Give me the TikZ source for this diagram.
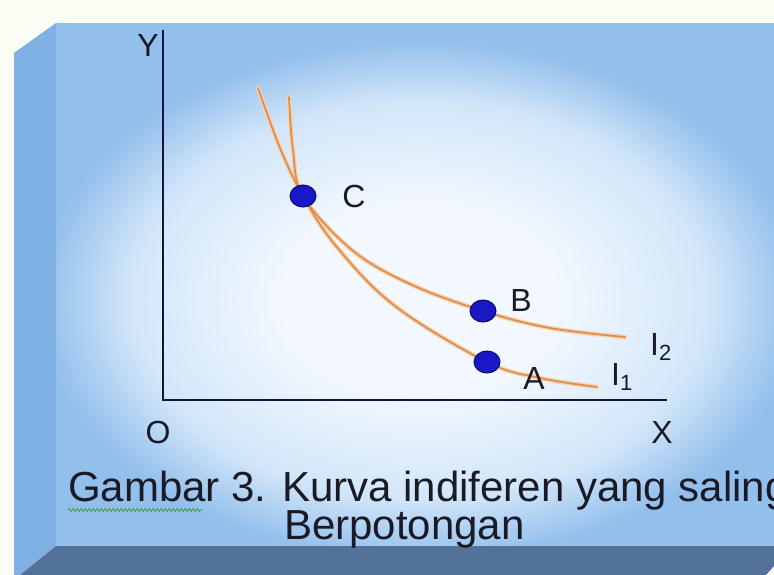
\documentclass[tikz,border=0pt]{standalone}
\usepackage{fontspec}
\setmainfont{Liberation Sans}
\usetikzlibrary{decorations.pathmorphing,shapes.geometric}
\definecolor{bgw}{HTML}{FBFCF4}
\definecolor{face}{HTML}{92BFEC}
\definecolor{side}{HTML}{80B1E4}
\definecolor{bottomc}{HTML}{52729A}
\definecolor{glow}{HTML}{F2F8FE}
\definecolor{glowmid}{HTML}{D2E6F9}
\definecolor{axiscol}{HTML}{14143C}
\definecolor{curvecol}{HTML}{DE8E4E}
\definecolor{curvehalo}{HTML}{F6D2B0}
\definecolor{dotcol}{HTML}{1818C8}
\definecolor{dotedge}{HTML}{0A0A6A}
\definecolor{squig}{HTML}{3E9A3E}
\definecolor{textcol}{HTML}{1A1A26}
\pgfdeclareradialshading{faceglow}{\pgfpoint{0bp}{0bp}}{color(0bp)=(glow); color(9bp)=(glow); color(19bp)=(glowmid); color(25bp)=(face); color(50bp)=(face)}
\tikzset{
  axisline/.style={draw=axiscol, line width=2.4pt},
  halo/.style={draw=curvehalo, line width=4.5pt, line cap=round},
  curveline/.style={draw=curvecol, line width=1.8pt, line cap=round},
  dotnode/.style={ellipse, fill=dotcol, draw=dotedge, line width=1pt, minimum width=26pt, minimum height=22pt, inner sep=0pt},
  lab/.style={font=\fontsize{32}{36}\selectfont, text=textcol, inner sep=0pt},
  captext/.style={font=\fontsize{42}{46}\selectfont, text=textcol, inner sep=0pt, anchor=base west}
}
\begin{document}
\begin{tikzpicture}[x=1pt,y=-1pt]
\useasboundingbox (0,0) rectangle (774,575);
\clip (0,0) rectangle (774,575);
% box
\fill[bgw] (0,0) rectangle (774,575);
\fill[side] (14,53) -- (56,23) -- (56,546) -- (20,575) -- (14,575) -- cycle;
\fill[face] (56,23) rectangle (774,546);
\begin{scope}
  \clip (56,23) rectangle (774,546);
  \shade[shading=faceglow] (40,40) rectangle (800,560);
\end{scope}
\fill[bottomc] (56,546) -- (774,546) -- (774,566) -- (766,575) -- (20,575) -- cycle;
% axes
\coordinate (top) at (163,30);
\coordinate (orig) at (163,400);
\coordinate (right) at (667,400);
\draw[axisline] (top) -- (orig) -- (right);
% curves
\draw[halo] plot[smooth, tension=0.6] coordinates {(258,88) (280,148) (303,196) (336,246) (395,306) (487,362) (540,378) (597,387)};
\draw[halo] plot[smooth, tension=0.6] coordinates {(289,97) (293,150) (303,196) (352,250) (410,284) (483,311) (550,328) (625,337)};
\draw[curveline] plot[smooth, tension=0.6] coordinates {(258,88) (280,148) (303,196) (336,246) (395,306) (487,362) (540,378) (597,387)};
\draw[curveline] plot[smooth, tension=0.6] coordinates {(289,97) (293,150) (303,196) (352,250) (410,284) (483,311) (550,328) (625,337)};
% points
\node[dotnode] (C) at (303,196) {};
\node[dotnode] (B) at (483,311) {};
\node[dotnode] (A) at (487,362) {};
% labels
\node[lab] (Ylab) at (148,45) {Y};
\node[lab] (Olab) at (158,432) {O};
\node[lab] (Xlab) at (662,432) {X};
\node[lab] (Clab) at (354,196) {C};
\node[lab] (Blab) at (521,300) {B};
\node[lab] (Alab) at (534,378) {A};
\node[lab, anchor=base west] (I2lab) at (650,355) {I\raisebox{-5pt}{\fontsize{22}{22}\selectfont 2}};
\node[lab, anchor=base west] (I1lab) at (611,385) {I\raisebox{-5pt}{\fontsize{22}{22}\selectfont 1}};
% caption
\node[captext] (cap1) at (68,501) {Gambar 3. Kurva indiferen yang saling};
\node[captext] (cap2) at (284,539) {Berpotongan};
\draw[squig, line width=0.8pt, decorate, decoration={snake, amplitude=1.5pt, segment length=4pt}] (68,510) -- (202,510);
\end{tikzpicture}
\end{document}
